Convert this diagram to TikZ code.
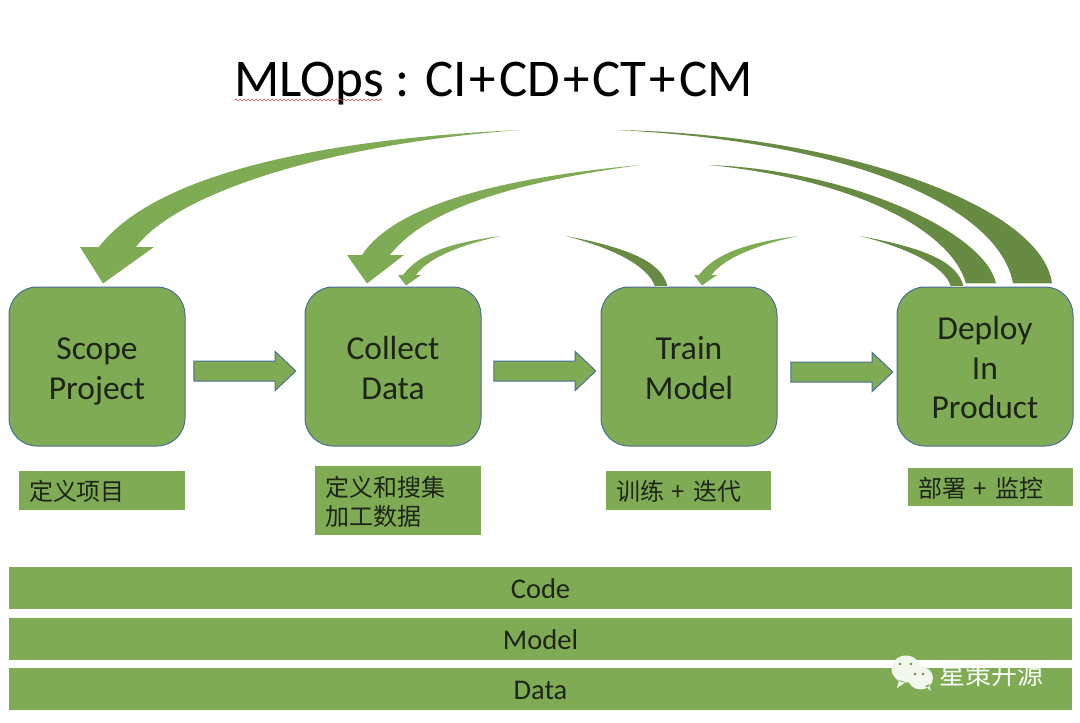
\documentclass[tikz,border=0pt]{standalone}
\usepackage{fontspec}
\setmainfont{Carlito}
\newfontfamily\cjk{Noto Sans CJK SC}
\usetikzlibrary{calc,shapes.arrows,decorations.pathmorphing}
\definecolor{leaf}{HTML}{7FAB55}
\definecolor{darkleaf}{HTML}{678B42}
\definecolor{edge}{HTML}{4A6E96}
\definecolor{ink}{HTML}{1E2418}
\newcommand{\tplus}{\kern3pt+\kern3pt}
\newcommand{\topgap}{\rule{0pt}{22pt}}
\newcommand{\stagegap}{\rule{0pt}{37.6pt}}
\newcommand{\bargap}{\rule{0pt}{29pt}}
\tikzset{
  stagebox/.style={draw=edge,line width=1pt,fill=leaf,rounded corners=28pt,minimum width=176pt,minimum height=159pt,
    inner sep=0pt,align=center,text=ink,font=\fontsize{33.5}{39.5}\selectfont},
  notebox/.style={fill=leaf,minimum width=166pt,inner xsep=10pt,inner ysep=0pt,outer sep=0pt,align=left,text=ink,font=\cjk\fontsize{24}{29}\selectfont},
  layerbar/.style={fill=leaf,minimum width=1063pt,minimum height=42pt,inner sep=0pt,text=ink,font=\fontsize{28.5}{30}\selectfont},
  stepflow/.style={single arrow,draw=edge,line width=1pt,fill=leaf,minimum width=38pt,minimum height=102pt,inner xsep=0pt,inner ysep=9.5pt,
    single arrow head extend=9.5pt,single arrow tip angle=87,single arrow head indent=0pt},
  lightflow/.style={fill=leaf},
  darkflow/.style={fill=darkleaf}
}
\begin{document}
\begin{tikzpicture}[x=1pt,y=-1pt]
    \useasboundingbox (0,0) rectangle (1080,723);
    \fill[white] (0,0) rectangle (1080,723);
    \node (title) [anchor=base west,inner sep=0pt,text=black,font=\fontsize{53}{56}\selectfont] at (234,96)
        {MLOps\kern12pt:\kern15pt CI\tplus CD\tplus CT\tplus CM};
    \draw[red!70!black!70,line width=.6pt,decorate,decoration={snake,segment length=4pt,amplitude=1pt}] (235,100) -- (382,100);
    % the four stages
    \node (scope) [stagebox] at (97,366.5) {\stagegap Scope\\\strut Project};
    \node (collect) [stagebox] at (393,366.5) {\stagegap Collect\\\strut Data};
    \node (train) [stagebox] at (689,366.5) {\stagegap Train\\\strut Model};
    \node (deploy) [stagebox] at (985,366.5) {\stagegap Deploy\\\strut In\\\strut Product};
    % block arrows between them
    \path (scope) -- (collect) node [midway,stepflow,xshift=-5.5pt,yshift=-4.5pt] (scopeflow) {};
    \path (collect) -- (train) node [midway,stepflow,xshift=-1.5pt,yshift=-4.5pt] (collectflow) {};
    \path (train) -- (deploy) node [midway,stepflow,xshift=-.5pt,yshift=-5.5pt] (trainflow) {};
    % notes under the stages
    \node (scopenote) [notebox,anchor=north west,minimum height=39pt,text width=146pt] at (19,471) {\topgap 定义项目};
    \node (collectnote) [notebox,anchor=north west,minimum height=69pt,text width=146pt] at (315,466) {\topgap 定义和搜集\\加工数据};
    \node (trainnote) [notebox,anchor=north west,minimum width=165pt,minimum height=39pt,text width=145pt] at (606,471) {\topgap 训练 + 迭代};
    \node (deploynote) [notebox,anchor=north west,minimum width=165pt,minimum height=38pt,text width=145pt] at (908,468) {\topgap 部署 + 监控};
    % layers along the bottom
    \foreach \name/\ypos in {Code/588,Model/639,Data/689}{% one bar per layer
      \node (\name) [layerbar] at (540.5,\ypos) {\bargap\strut\name};}
    % tips and tails of the curved arrows
    \coordinate (tipscope) at ($(scope.north)+(6,-3)$);
    \coordinate (tipcollect) at ($(collect.north)+(-26,-3)$);
    \coordinate (tipcollecttwo) at ($(collect.north)+(13,-1)$);
    \coordinate (tiptrain) at ($(train.north)+(13,-1)$);
    \coordinate (tailscope) at (520,130);
    \coordinate (tailcollect) at (640,165);
    \coordinate (tailcollecttwo) at (501,236);
    \coordinate (tailtrain) at (798,236);
    \coordinate (tailfromtrain) at (566,236);
    \coordinate (tailfromdeploy) at (860,236);
    \coordinate (tailmiddle) at (709,165);
    \coordinate (tailouter) at (616,130);
    % arrows going back
    \fill[lightflow] (tailscope) .. controls (300,140) and (150,180) .. (99,247) -- (80,247) -- (tipscope)
        -- (154,247) -- (136,247) .. controls (175,195) and (320,145) .. (tailscope);
    \fill[lightflow] (tailcollect) .. controls (500,178) and (395,205) .. (362,255) -- (347,255) -- (tipcollect)
        -- (404,255) -- (390,255) .. controls (425,210) and (510,183) .. (tailcollect);
    \fill[lightflow] (tailcollecttwo) .. controls (455,242) and (420,252) .. (403,275) -- (398,275) -- (tipcollecttwo)
        -- (421,275) -- (416,275) .. controls (428,258) and (460,245) .. (tailcollecttwo);
    \fill[lightflow] (tailtrain) .. controls (752,242) and (716,252) .. (699,275) -- (694,275) -- (tiptrain)
        -- (717,275) -- (711.5,275) .. controls (724,258) and (757,245) .. (tailtrain);
    % arrows without a head
    \fill[darkflow] (tailfromtrain) .. controls (629,248) and (662,262) .. ($(train.north)+(-21.5,0)$)
        -- ($(train.north)+(-34,0)$) .. controls (649,268) and (619,250) .. (tailfromtrain);
    \fill[darkflow] (tailfromdeploy) .. controls (925,248) and (958,262) .. ($(deploy.north)+(-21.5,0)$)
        -- ($(deploy.north)+(-34,0)$) .. controls (945,268) and (915,250) .. (tailfromdeploy);
    \fill[darkflow] (tailmiddle) .. controls (850,170) and (985,232) .. ($(deploy.north)+(11,-3)$)
        -- ($(deploy.north)+(-19,-3)$) .. controls (950,228) and (850,179) .. (tailmiddle);
    \fill[darkflow] (tailouter) .. controls (840,134) and (1042,205) .. ($(deploy.north)+(67,-3)$)
        -- ($(deploy.north)+(28,-3)$) .. controls (1000,210) and (860,142) .. (tailouter);
    % pale line at the foot of each
    \foreach \a/\b in {train/-34,deploy/-34}{%
      \draw[white!60!leaf,line width=1pt] ($(\a.north)+(\b,-.5)$) -- ++(12.5,0);}
    \foreach \a/\b in {-19/30,28/39}{%
      \draw[white!60!leaf,line width=1pt] ($(deploy.north)+(\a,-3)$) -- ++(\b,0);}
    % mark in the corner
    \fill[white!90!leaf] (906,669) ellipse (14.5 and 13.5) (899,680) -- (897,688) -- (906,682) -- cycle;
    \fill[white!90!leaf] (920.5,678) ellipse (12.5 and 11.5) (925,686) -- (931,691) -- (929,684) -- cycle;
    \foreach \x/\y in {900/664,911/664,915/674,923/674}{% the eyes
      \fill[darkleaf] (\x,\y) circle (1.3);}
    \node (mark) [anchor=west,inner sep=0pt,text=white!95!leaf,font=\cjk\fontsize{26}{30}\selectfont] at (939,675) {星策开源};
\end{tikzpicture}
\end{document}
